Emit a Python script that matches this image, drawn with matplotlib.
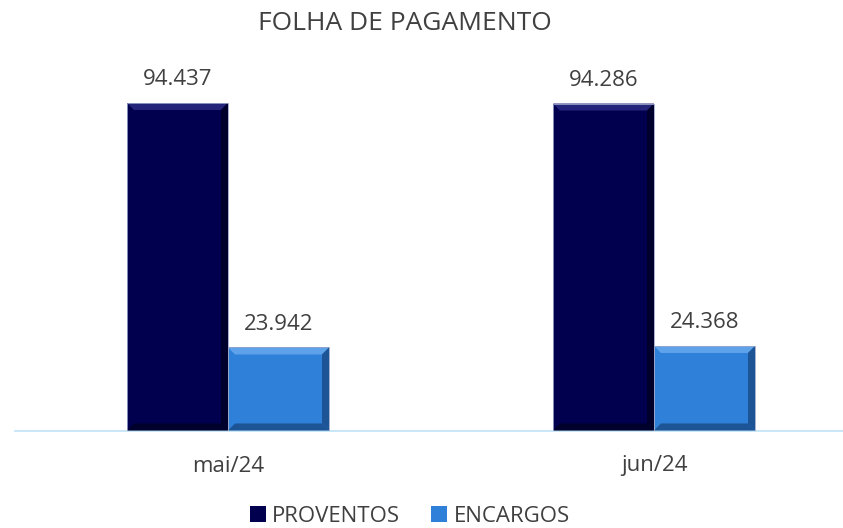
import numpy as np
import matplotlib
matplotlib.use("Agg")
import matplotlib.pyplot as plt
from matplotlib.patches import Polygon

plt.rcParams['font.family'] = ['Open Sans', 'DejaVu Sans']

categories = ['mai/24', 'jun/24']
series_names = ['PROVENTOS', 'ENCARGOS']
proventos = [94437, 94286]
encargos = [23942, 24368]
labels_prov = ['94.437', '94.286']
labels_enc = ['23.942', '24.368']

face = ['#00004f', '#2f80d8']
top_light = ['#24247a', '#5ea3ea']
side_dark = ['#00002c', '#1c5496']
text_col = '#404040'

W, H = 843, 528
fig = plt.figure(figsize=(W / 100, H / 100), dpi=100)

# axes geometry in pixels
base_y = 430.5
top_px = 60
left_px = 15
cat_px = 426
ax_h = base_y - top_px
ax = fig.add_axes([left_px / W, (H - base_y) / H, (W - left_px) / W, ax_h / H])

ymax = proventos[0] * ax_h / (base_y - 103)
ax.set_ylim(0, ymax)
xright = -0.5 + (W - left_px) / cat_px
ax.set_xlim(-0.5, xright)

x = np.arange(len(categories))
bw = 101 / cat_px
bars1 = ax.bar(x - bw / 2, proventos, bw, color=face[0], label=series_names[0], zorder=2)
bars2 = ax.bar(x + bw / 2, encargos, bw, color=face[1], label=series_names[1], zorder=2)

# bevel overlay
bx = 7 / cat_px
by = 7 * ymax / ax_h
for k, bars in enumerate([bars1, bars2]):
    for b in bars:
        x0 = b.get_x(); x1 = x0 + b.get_width(); h = b.get_height()
        # top
        ax.add_patch(Polygon([[x0, h], [x1, h], [x1 - bx, h - by], [x0 + bx, h - by]],
                             closed=True, color=top_light[k], lw=0, zorder=3))
        # right
        ax.add_patch(Polygon([[x1, 0], [x1, h], [x1 - bx, h - by], [x1 - bx, by]],
                             closed=True, color=side_dark[k], lw=0, zorder=3))
        # bottom
        ax.add_patch(Polygon([[x0, 0], [x1, 0], [x1 - bx, by], [x0 + bx, by]],
                             closed=True, color=side_dark[k], lw=0, zorder=3))
        ax.plot([x0, x0, x1, x1], [0, h, h, 0], color='#9aa6c8', lw=0.6, zorder=4)

for bars, labs in [(bars1, labels_prov), (bars2, labels_enc)]:
    for b, t in zip(bars, labs):
        ax.text(b.get_x() + b.get_width() / 2, b.get_height() + ymax * 0.034, t,
                ha='center', va='bottom', fontsize=16, color=text_col)

for s in ['top', 'right', 'left']:
    ax.spines[s].set_visible(False)
ax.spines['bottom'].set_color('#bfe3f5')
ax.spines['bottom'].set_linewidth(1.2)
ax.set_yticks([])
ax.set_xticks(x)
ax.set_xticklabels(categories, fontsize=16, color=text_col)
ax.tick_params(axis='x', length=0, pad=18)

fig.text(405 / W, 1 - 24 / H, 'FOLHA DE PAGAMENTO', ha='center', va='center',
         fontsize=19, color=text_col)

fig.legend(handles=[bars1, bars2], labels=series_names, loc='center',
           bbox_to_anchor=(410 / W, 1 - 516 / H), ncol=2, frameon=False,
           fontsize=16, labelcolor=text_col, handlelength=0.7, handleheight=0.7,
           handletextpad=0.3, columnspacing=1.4, borderpad=0)

fig.savefig('out.png', dpi=100, facecolor='white')
